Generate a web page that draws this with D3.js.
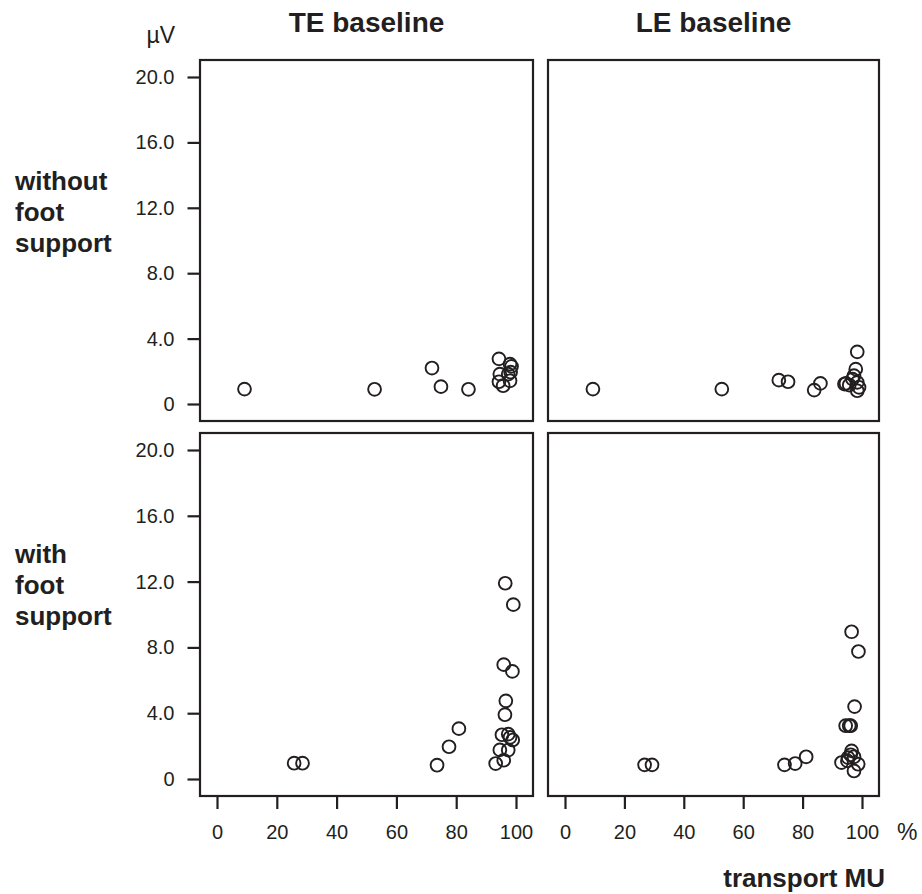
<!DOCTYPE html>
<html>
<head>
<meta charset="utf-8">
<script src="https://cdn.jsdelivr.net/npm/d3@7"></script>
<style>
  html, body { margin: 0; padding: 0; background: #fff; }
  svg { display: block; font-family: "Liberation Sans", Arial, sans-serif; }
</style>
</head>
<body>
<svg id="chart" width="922" height="894"></svg>
<script>
// ---- data ----
const columnTitles = ["TE baseline", "LE baseline"];
const rowLabels = [["without", "foot", "support"], ["with", "foot", "support"]];
const yTicks = [0, 4, 8, 12, 16, 20];
const xTicks = [0, 20, 40, 60, 80, 100];
const yUnit = "µV";
const xUnit = "%";
const xTitle = "transport MU";

// TE baseline, without foot support: [transport MU %, µV]
const teWithoutX = [9.2, 52.7, 71.9, 74.9, 84.1, 94.3, 98.0, 98.5, 94.6, 97.4, 98.2, 94.3, 95.7, 98.0];
const teWithoutY = [0.91, 0.90, 2.20, 1.06, 0.90, 2.76, 2.44, 2.30, 1.83, 1.83, 1.95, 1.36, 1.12, 1.42];
// LE baseline, without foot support
const leWithoutX = [9.4, 52.8, 72.0, 75.1, 83.9, 86.0, 98.4, 97.9, 97.3, 94.6, 95.7, 98.4, 99.0, 98.4, 94.1, 96.8];
const leWithoutY = [0.91, 0.91, 1.46, 1.36, 0.85, 1.26, 3.19, 2.13, 1.73, 1.26, 1.16, 1.32, 1.02, 0.81, 1.22, 1.52];
// TE baseline, with foot support
const teWithX = [25.8, 28.6, 73.6, 77.6, 80.9, 96.4, 99.1, 95.9, 98.8, 96.6, 96.3, 95.3, 97.4, 98.0, 98.9, 94.6, 97.4, 95.9, 93.2];
const teWithY = [0.96, 0.96, 0.84, 1.96, 3.06, 11.9, 10.6, 6.95, 6.54, 4.75, 3.91, 2.69, 2.73, 2.53, 2.37, 1.77, 1.76, 1.14, 0.94];
// LE baseline, with foot support
const leWithX = [26.8, 29.3, 73.9, 77.5, 81.2, 96.5, 98.8, 97.5, 94.5, 95.7, 96.2, 93.1, 96.5, 96.2, 95.3, 97.3, 98.7, 97.3, 95.1];
const leWithY = [0.86, 0.86, 0.86, 0.94, 1.35, 8.95, 7.75, 4.40, 3.24, 3.24, 3.24, 1.00, 1.71, 1.47, 1.30, 1.35, 0.90, 0.49, 1.10];

const panelData = [
  [d3.zip(teWithoutX, teWithoutY), d3.zip(leWithoutX, leWithoutY)],
  [d3.zip(teWithX, teWithY), d3.zip(leWithX, leWithY)]
];

// ---- layout ----
const ink = "#231f20";
const colX = [[200, 533], [548, 879]];
const rowY = [[60, 421], [433, 796]];
const pad = 17;
const tickFont = 20;
const unitFont = 23;
const boldFont = 26;
const titleFont = 28;

const svg = d3.select("#chart");

rowY.forEach((ry, r) => {
  const y = d3.scaleLinear().domain([0, 20]).range([ry[1] - pad, ry[0] + pad]);
  colX.forEach((cx, c) => {
    const x = d3.scaleLinear().domain([0, 100]).range([cx[0] + pad, cx[1] - pad]);
    const g = svg.append("g");

    // frame
    g.append("rect")
      .attr("x", cx[0]).attr("y", ry[0])
      .attr("width", cx[1] - cx[0]).attr("height", ry[1] - ry[0])
      .attr("fill", "none").attr("stroke", ink).attr("stroke-width", 2.2);

    // points
    g.selectAll("circle").data(panelData[r][c]).join("circle")
      .attr("cx", d => x(d[0]))
      .attr("cy", d => y(d[1]))
      .attr("r", 6.4)
      .attr("fill", "none")
      .attr("stroke", ink)
      .attr("stroke-width", 1.9);

    // y axis on left column
    if (c === 0) {
      const ax = d3.axisLeft(y).tickValues(yTicks).tickSize(12).tickPadding(13)
        .tickFormat(d => d === 0 ? "0" : d3.format(".1f")(d));
      const a = svg.append("g").attr("transform", `translate(${cx[0] - 0.5},0)`).call(ax);
      a.select(".domain").remove();
      a.selectAll(".tick line").attr("stroke", ink).attr("stroke-width", 2.2);
      a.selectAll(".tick text").attr("fill", ink).style("font-size", tickFont + "px")
        .style("font-family", '"Liberation Sans", Arial, sans-serif');
    }
    // x axis on bottom row
    if (r === 1) {
      const ax = d3.axisBottom(x).tickValues(xTicks).tickSize(12).tickPadding(16);
      const a = svg.append("g").attr("transform", `translate(0,${ry[1] + 1})`).call(ax);
      a.select(".domain").remove();
      a.selectAll(".tick line").attr("stroke", ink).attr("stroke-width", 2.2);
      a.selectAll(".tick text").attr("fill", ink).style("font-size", tickFont + "px")
        .style("font-family", '"Liberation Sans", Arial, sans-serif');
    }
    // column titles
    if (r === 0) {
      svg.append("text")
        .attr("x", (cx[0] + cx[1]) / 2).attr("y", 32)
        .attr("text-anchor", "middle")
        .attr("font-weight", "bold").attr("font-size", titleFont + "px")
        .attr("fill", ink)
        .text(columnTitles[c]);
    }
  });

  // row labels
  const lab = svg.append("text")
    .attr("x", 15).attr("y", ry[0] + 130)
    .attr("font-weight", "bold").attr("font-size", boldFont + "px")
    .attr("fill", ink);
  rowLabels[r].forEach((t, i) => {
    lab.append("tspan").attr("x", 15).attr("dy", i === 0 ? 0 : 31).text(t);
  });
});

// units
svg.append("text").attr("x", 175).attr("y", 43).attr("text-anchor", "end")
  .attr("font-size", unitFont + "px").attr("fill", ink).text(yUnit);
svg.append("text").attr("x", 897).attr("y", 840)
  .attr("font-size", unitFont + "px").attr("fill", ink).text(xUnit);
svg.append("text").attr("x", 885).attr("y", 887).attr("text-anchor", "end")
  .attr("font-weight", "bold").attr("font-size", boldFont + "px")
  .attr("fill", ink).text(xTitle);
</script>
</body>
</html>
